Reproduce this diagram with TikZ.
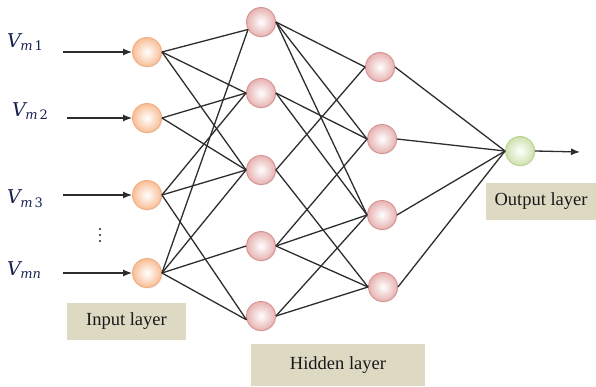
\documentclass[tikz,border=0pt]{standalone}
\usepackage{fontspec}
\setmainfont{Liberation Serif}
\newfontfamily\vfont{DejaVu Serif}
\usetikzlibrary{arrows.meta,shadows}
\definecolor{inbor}{RGB}{242,172,128}
\definecolor{infill}{RGB}{248,190,150}
\definecolor{hibor}{RGB}{214,146,144}
\definecolor{hifill}{RGB}{232,178,178}
\definecolor{oubor}{RGB}{186,210,144}
\definecolor{oufill}{RGB}{206,226,174}
\definecolor{boxfill}{RGB}{221,217,195}
\definecolor{vcol}{RGB}{22,34,78}
\definecolor{edgecol}{RGB}{45,45,45}
\newcommand{\vsub}[1]{{\fontsize{19}{22}\selectfont\vfont\itshape V}\kern-0.5pt\lower3.8pt\hbox{\fontsize{13}{14}\selectfont\vfont #1}}
\begin{document}
\begin{tikzpicture}[x=1pt,y=-1pt,
  neuron/.style={circle,minimum size=29pt,inner sep=0pt,line width=0.9pt,shading=radial,
    drop shadow={opacity=0.18,shadow xshift=0.8pt,shadow yshift=-1pt}},
  inn/.style={neuron,draw=inbor,inner color=white,outer color=infill},
  hid/.style={neuron,draw=hibor,inner color=white,outer color=hifill},
  outn/.style={neuron,draw=oubor,inner color=white,outer color=oufill},
  conn/.style={draw=edgecol,line width=1.3pt},
  arr/.style={conn,-{Latex[length=9pt,width=7pt]}},
  lab/.style={fill=boxfill,inner sep=0pt,text=black!90,font=\fontsize{18.5}{20}\selectfont},
  vlab/.style={text=vcol,inner sep=0pt,anchor=west},
  dot/.style={circle,fill=vcol,inner sep=0pt,minimum size=2.4pt}
]
\useasboundingbox (0,0) rectangle (596,387);

% boxes
\node[lab,minimum width=119pt,minimum height=37pt] (inbox) at (126.5,321.5) {Input layer};
\node[lab,minimum width=174pt,minimum height=42pt] (hidbox) at (338,365) {Hidden layer};
\node[lab,minimum width=110pt,minimum height=37pt] (outbox) at (541,201.5) {Output layer};

% input neurons
\node[inn] (i1) at (147,52) {};
\node[inn] (i2) at (147,118) {};
\node[inn] (i3) at (147,195) {};
\node[inn] (i4) at (147,273) {};
% hidden layer 1
\node[hid] (h1) at (261,22) {};
\node[hid] (h2) at (261,93) {};
\node[hid] (h3) at (261,170) {};
\node[hid] (h4) at (261,246) {};
\node[hid] (h5) at (261,316) {};
% hidden layer 2
\node[hid] (g1) at (380,67) {};
\node[hid] (g2) at (382,139) {};
\node[hid] (g3) at (382,215) {};
\node[hid] (g4) at (383,287) {};
% output
\node[outn] (o) at (520,151) {};

% input labels
\node[vlab] (v1) at (7,42) {\vsub{\itshape m\kern2pt\upshape 1}};
\node[vlab] (v2) at (12,111) {\vsub{\itshape m\kern2pt\upshape 2}};
\node[vlab] (v3) at (7,199) {\vsub{\itshape m\kern2pt\upshape 3}};
\node[vlab] (vn) at (7,270) {\vsub{\itshape mn}};
\node[dot] (d1) at (100,229) {};
\node[dot] (d2) at (100,235) {};
\node[dot] (d3) at (100,241) {};

% input arrows
\coordinate (s1) at (63,52);
\coordinate (s2) at (67,118);
\coordinate (s3) at (63,195);
\coordinate (s4) at (63,273);
\draw[arr] (s1) -- (i1.west);
\draw[arr] (s2) -- (i2.west);
\draw[arr] (s3) -- (i3.west);
\draw[arr] (s4) -- (i4.west);

% input -> hidden 1
\draw[conn] (i1.east) -- (h1.210);
\draw[conn] (i1.east) -- (h2.west);
\draw[conn] (i1.east) -- (h3.west);
\draw[conn] (i2.east) -- (h2.west);
\draw[conn] (i2.east) -- (h3.west);
\draw[conn] (i3.east) -- (h2.west);
\draw[conn] (i3.east) -- (h3.west);
\draw[conn] (i3.east) -- (h5.195);
\draw[conn] (i4.east) -- (h1.210);
\draw[conn] (i4.east) -- (h3.west);
\draw[conn] (i4.east) -- (h4.west);
\draw[conn] (i4.east) -- (h5.195);

% hidden 1 -> hidden 2
\draw[conn] (h1.east) -- (g1.west);
\draw[conn] (h1.east) -- (g2.west);
\draw[conn] (h1.east) -- (g3.west);
\draw[conn] (h2.east) -- (g2.west);
\draw[conn] (h2.east) -- (g3.west);
\draw[conn] (h3.east) -- (g1.west);
\draw[conn] (h3.east) -- (g4.west);
\draw[conn] (h4.east) -- (g2.west);
\draw[conn] (h4.east) -- (g3.west);
\draw[conn] (h4.east) -- (g4.west);
\draw[conn] (h5.east) -- (g3.west);
\draw[conn] (h5.east) -- (g4.west);

% hidden 2 -> output
\draw[conn] (g1.east) -- (o.west);
\draw[conn] (g2.east) -- (o.west);
\draw[conn] (g3.east) -- (o.west);
\draw[conn] (g4.east) -- (o.west);

% output arrow
\coordinate (e) at (580,152);
\draw[arr] (o.east) -- (e);
\end{tikzpicture}
\end{document}
